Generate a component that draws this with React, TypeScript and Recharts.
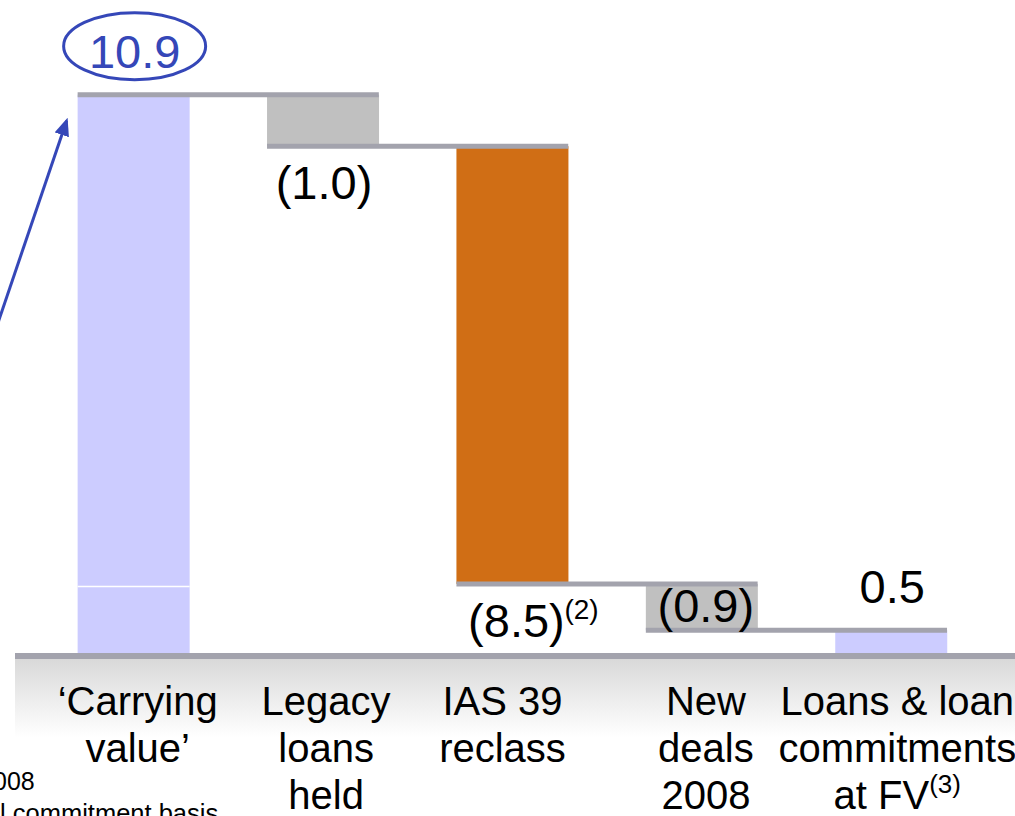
import React from 'react';
import { ComposedChart, Bar, XAxis, YAxis, LabelList } from 'recharts';

const categories = [
  '‘Carrying value’',
  'Legacy loans held',
  'IAS 39 reclass',
  'New deals 2008',
  'Loans & loan commitments at FV',
];
const categoryLines = [
  ['‘Carrying', 'value’'],
  ['Legacy', 'loans', 'held'],
  ['IAS 39', 'reclass'],
  ['New', 'deals', '2008'],
  ['Loans & loan', 'commitments', 'at FV'],
];
const categorySuperscripts = ['', '', '', '', '(3)'];
const changes = [10.9, -1.0, -8.5, -0.9, 0.5];
const isTotal = [true, false, false, false, true];
const valueLabels = ['10.9', '(1.0)', '(8.5)', '(0.9)', '0.5'];
const valueSuperscripts = ['', '', '(2)', '', ''];
const labelPlacement = ['above', 'below', 'below', 'insideBottom', 'above'];
const labelColors = ['#3547b8', '#000000', '#000000', '#000000', '#000000'];
const barColors = ['#ccccff', '#c0c0c0', '#d06e15', '#c0c0c0', '#ccccff'];
const tickShift = [4, 3, -10, 4, 6];
const carryingSplit = 1.35;
const footnotes = ['008', 'l commitment basis'];

const FONT = '"Liberation Sans", Arial, Helvetica, sans-serif';
const CONNECTOR = '#a3a3ad';
const BLUE = '#3547b8';
const GAP_FRAC = 0.204;

let running = 0;
const data = categories.map((name, i) => {
  const v = changes[i];
  let base: number;
  let delta: number;
  let end: number;
  if (isTotal[i]) {
    base = 0;
    delta = v;
    end = v;
  } else {
    const start = running;
    end = running + v;
    base = Math.min(start, end);
    delta = Math.abs(v);
  }
  running = end;
  return { name, base, delta, end };
});

const DeltaShape = (props: any) => {
  const { x, y, width, height, payload } = props;
  if (!height || height <= 0) return null;
  const i = categories.indexOf(payload?.name);
  const splitY = i === 0 ? y + height * (1 - carryingSplit / changes[0]) : null;
  return (
    <g>
      <rect x={x} y={y} width={width} height={height} fill={barColors[i]} />
      {splitY !== null && (
        <line x1={x} x2={x + width} y1={splitY} y2={splitY} stroke="#ffffff" strokeWidth={1.5} />
      )}
    </g>
  );
};

const ValueLabel = (props: any) => {
  const vb = props.viewBox || props;
  const { x, y, width, height } = vb;
  const i = categories.indexOf(props.value);
  if (i < 0) return null;
  const cx = x + width / 2;
  const d = data[i];
  const band = width / (1 - 2 * GAP_FRAC);
  const endsAtTop = d.end >= d.base + d.delta - 1e-9;
  const levelY = endsAtTop ? y : y + height;
  const hasNext = i < data.length - 1;

  const place = labelPlacement[i];
  let baseline = y - 27;
  if (place === 'below') baseline = y + height + 53;
  if (place === 'insideBottom') baseline = y + height - 8;
  const sup = valueSuperscripts[i];
  const mainX = sup ? cx + 4 : cx + (i === 3 ? 4 : 1);
  return (
    <g>
      {hasNext && (
        <line x1={x} x2={x + band + width} y1={levelY} y2={levelY} stroke={CONNECTOR} strokeWidth={5} />
      )}
      <text x={mainX} y={baseline} textAnchor="middle" fontSize={47} fontFamily={FONT} fill={labelColors[i]}>
        {valueLabels[i]}
      </text>
      {sup && (
        <text x={mainX + 48} y={baseline - 18} textAnchor="start" fontSize={28} fontFamily={FONT} fill={labelColors[i]}>
          {sup}
        </text>
      )}
      {i === 0 && (
        <g>
          <defs>
            <marker id="arrowHead" markerWidth="6" markerHeight="5" refX="5" refY="2.5" orient="auto">
              <path d="M0,0 L6,2.5 L0,5 z" fill={BLUE} />
            </marker>
          </defs>
          <ellipse cx={cx + 1} cy={y - 48.5} rx={71} ry={33.5} fill="none" stroke={BLUE} strokeWidth={3} />
          <line x1={x - 82} y1={y + 235} x2={x - 11} y2={y + 26} stroke={BLUE} strokeWidth={3} markerEnd="url(#arrowHead)" />
        </g>
      )}
    </g>
  );
};

const CategoryTick = (props: any) => {
  const { x, y, payload } = props;
  const i = categories.indexOf(payload?.value);
  if (i < 0) return null;
  const lines = categoryLines[i];
  const sup = categorySuperscripts[i];
  const tx = x + tickShift[i];
  return (
    <g>
      <text x={tx} y={y} textAnchor="middle" fontSize={40} fontFamily={FONT} fill="#000000">
        {lines.map((ln, k) => (
          <tspan key={k} x={tx} dy={k === 0 ? 59 : 47}>
            {ln}
            {k === lines.length - 1 && sup ? (
              <tspan fontSize={26} dy={-16}>{sup}</tspan>
            ) : null}
          </tspan>
        ))}
      </text>
    </g>
  );
};

export default function App() {
  return (
    <div style={{ position: 'absolute', left: 0, top: 0, width: 1015, height: 816, overflow: 'hidden', background: '#ffffff' }}>
      <div
        style={{
          position: 'absolute',
          left: 15,
          top: 659,
          width: 1000,
          height: 78,
          background: 'linear-gradient(#d9d9d9, #ffffff)',
        }}
      />
      <div style={{ position: 'absolute', left: 0, top: 0 }}>
        <ComposedChart
          width={1015}
          height={816}
          data={data}
          margin={{ top: 38, right: 0, bottom: 0, left: 15 }}
          barCategoryGap={`${GAP_FRAC * 100}%`}
        >
          <YAxis hide type="number" domain={[0, 12]} />
          <XAxis
            dataKey="name"
            type="category"
            height={160}
            interval={0}
            padding={{ left: 24, right: 29 }}
            tickLine={false}
            tickSize={0}
            tickMargin={0}
            axisLine={{ stroke: CONNECTOR, strokeWidth: 6 }}
            tick={<CategoryTick />}
          />
          <Bar dataKey="base" stackId="w" fill="transparent" isAnimationActive={false} />
          <Bar dataKey="delta" stackId="w" shape={<DeltaShape />} isAnimationActive={false}>
            <LabelList dataKey="name" content={<ValueLabel />} />
          </Bar>
        </ComposedChart>
      </div>
      <svg width={1015} height={816} style={{ position: 'absolute', left: 0, top: 0, pointerEvents: 'none' }}>
        <text x={-7} y={790} fontSize={25} fontFamily={FONT} fill="#000000">{footnotes[0]}</text>
        <text x={0} y={822} fontSize={25.5} fontFamily={FONT} fill="#000000">{footnotes[1]}</text>
      </svg>
    </div>
  );
}
